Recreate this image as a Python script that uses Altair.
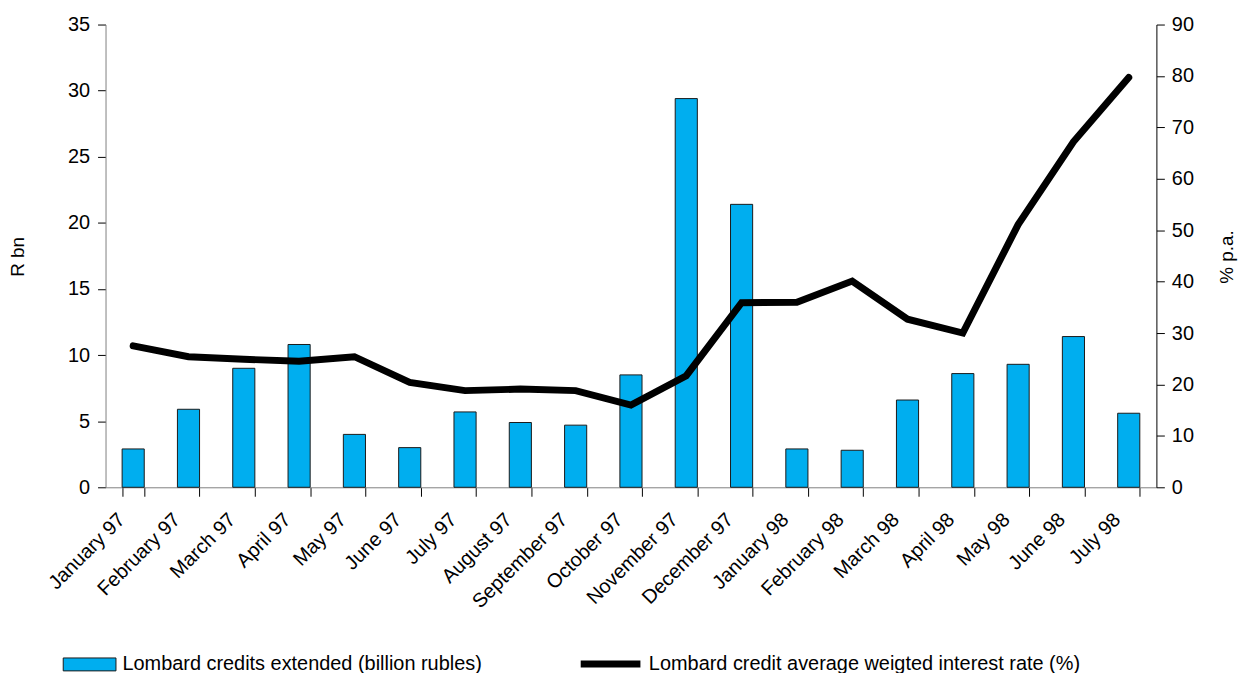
import altair as alt
import pandas as pd

months = ["January 97", "February 97", "March 97", "April 97", "May 97", "June 97",
          "July 97", "August 97", "September 97", "October 97", "November 97",
          "December 97", "January 98", "February 98", "March 98", "April 98",
          "May 98", "June 98", "July 98"]
credits = [2.9, 5.9, 9.0, 10.8, 4.0, 3.0, 5.7, 4.9, 4.7, 8.5, 29.4, 21.4,
           2.9, 2.8, 6.6, 8.6, 9.3, 11.4, 5.6]
rates = [27.5, 25.4, 24.9, 24.5, 25.4, 20.4, 18.8, 19.1, 18.8, 16.0, 21.7, 35.9,
         36.0, 40.1, 32.7, 30.0, 51.1, 67.2, 79.7]

bar_label = "Lombard credits extended (billion rubles)"
line_label = "Lombard credit average weigted interest rate (%)"
left_ticks = [0, 5, 10, 15, 20, 25, 30, 35]
right_ticks = [0, 10, 20, 30, 40, 50, 60, 70, 80, 90]

df = pd.DataFrame({
    "month": months,
    "credits": credits,
    "rate": rates,
    "s1": [bar_label] * len(months),
    "s2": [line_label] * len(months),
})

FONT = "Liberation Sans"

xenc = alt.X(
    "month:N", sort=months,
    scale=alt.Scale(paddingInner=0.6, paddingOuter=0.3),
    axis=alt.Axis(title=None, labelAngle=-45, labelAlign="right", labelBaseline="top",
                  labelOffset=-19, labelPadding=13, tickBand="extent", tickSize=9,
                  domainColor="#808080", tickColor="black", labelFontSize=20,
                  labelColor="black", labelLimit=400),
)

bars = alt.Chart(df).mark_bar(stroke="#1a1a1a", strokeWidth=1).encode(
    x=xenc,
    y=alt.Y("credits:Q", scale=alt.Scale(domain=[0, 35], nice=False),
            axis=alt.Axis(values=left_ticks, title="R bn", grid=False,
                          domainColor="#808080", tickColor="black", tickSize=8,
                          labelPadding=8, labelFontSize=20, labelColor="black",
                          titleFontSize=19, titleFontWeight="normal", titleColor="black",
                          titleAngle=270, titleX=-88, titleY=233,
                          titleAlign="center", titleBaseline="middle")),
    color=alt.Color("s1:N", scale=alt.Scale(domain=[bar_label], range=["#00AEEF"]),
                    legend=alt.Legend(title=None, orient="none", legendX=-43, legendY=616,
                                      symbolType="M-1,-0.245H1V0.245H-1Z", symbolSize=2809,
                                      symbolStrokeColor="#1a1a1a", symbolStrokeWidth=1,
                                      symbolOpacity=1, labelOffset=6, labelFontSize=20,
                                      labelColor="black", labelLimit=600, padding=0)),
)

line = alt.Chart(df).mark_line(strokeWidth=7, strokeCap="round", strokeJoin="miter").encode(
    x=xenc,
    y=alt.Y("rate:Q", scale=alt.Scale(domain=[0, 90], nice=False),
            axis=alt.Axis(orient="right", values=right_ticks, title="% p.a.", grid=False,
                          domainColor="black", tickColor="black", tickSize=8,
                          labelPadding=7, labelFontSize=20, labelColor="black",
                          titleFontSize=19, titleFontWeight="normal", titleColor="black",
                          titleAngle=270, titleX=70, titleY=233,
                          titleAlign="center", titleBaseline="middle")),
    stroke=alt.Stroke("s2:N", scale=alt.Scale(domain=[line_label], range=["black"]),
                      legend=alt.Legend(title=None, orient="none", legendX=474, legendY=609,
                                        symbolType="stroke", symbolSize=3600,
                                        symbolStrokeWidth=7, labelOffset=5,
                                        labelFontSize=20, labelColor="black",
                                        labelLimit=600, padding=0)),
)

chart = alt.layer(bars, line).resolve_scale(y="independent").properties(
    width=1056, height=465,
    autosize=alt.AutoSizeParams(type="none"),
    padding={"left": 98, "top": 15, "right": 82, "bottom": 185},
).configure_view(stroke=None).configure_axis(
    labelFont=FONT, titleFont=FONT, grid=False
).configure_legend(labelFont=FONT)

chart.save("out.html", embed_options={"renderer": "svg", "actions": False})
